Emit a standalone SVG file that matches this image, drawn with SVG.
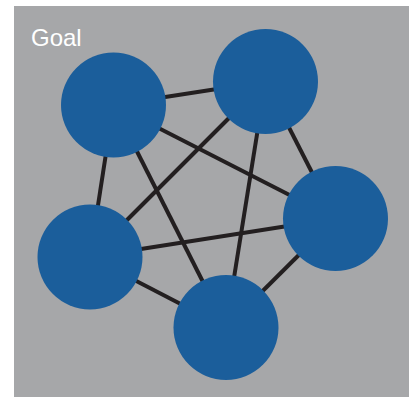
<svg xmlns="http://www.w3.org/2000/svg" width="409" height="398" viewBox="0 0 409 398">
<style>
.bg{fill:#a6a7a9}
.node{fill:#1b5e9b}
.edge{stroke:#231f20;stroke-width:4;fill:none}
.title{font-family:"Liberation Sans",Arial,sans-serif;font-size:24px;fill:#ffffff}
</style>
<rect class="bg" x="14" y="6" width="395" height="391"/>
<text class="title" x="31" y="46">Goal</text>
<g id="connectors">
<line class="edge" x1="113.5" y1="105" x2="265.5" y2="81.5"/>
<line class="edge" x1="113.5" y1="105" x2="335.5" y2="218.5"/>
<line class="edge" x1="113.5" y1="105" x2="226" y2="327.5"/>
<line class="edge" x1="113.5" y1="105" x2="90" y2="257"/>
<line class="edge" x1="265.5" y1="81.5" x2="335.5" y2="218.5"/>
<line class="edge" x1="265.5" y1="81.5" x2="226" y2="327.5"/>
<line class="edge" x1="265.5" y1="81.5" x2="90" y2="257"/>
<line class="edge" x1="335.5" y1="218.5" x2="226" y2="327.5"/>
<line class="edge" x1="335.5" y1="218.5" x2="90" y2="257"/>
<line class="edge" x1="226" y1="327.5" x2="90" y2="257"/>
</g>
<g id="node-1"><circle class="node" cx="113.5" cy="105" r="52.5"/></g>
<g id="node-2"><circle class="node" cx="265.5" cy="81.5" r="52.5"/></g>
<g id="node-3"><circle class="node" cx="335.5" cy="218.5" r="52.5"/></g>
<g id="node-4"><circle class="node" cx="226" cy="327.5" r="52.5"/></g>
<g id="node-5"><circle class="node" cx="90" cy="257" r="52.5"/></g>
</svg>
